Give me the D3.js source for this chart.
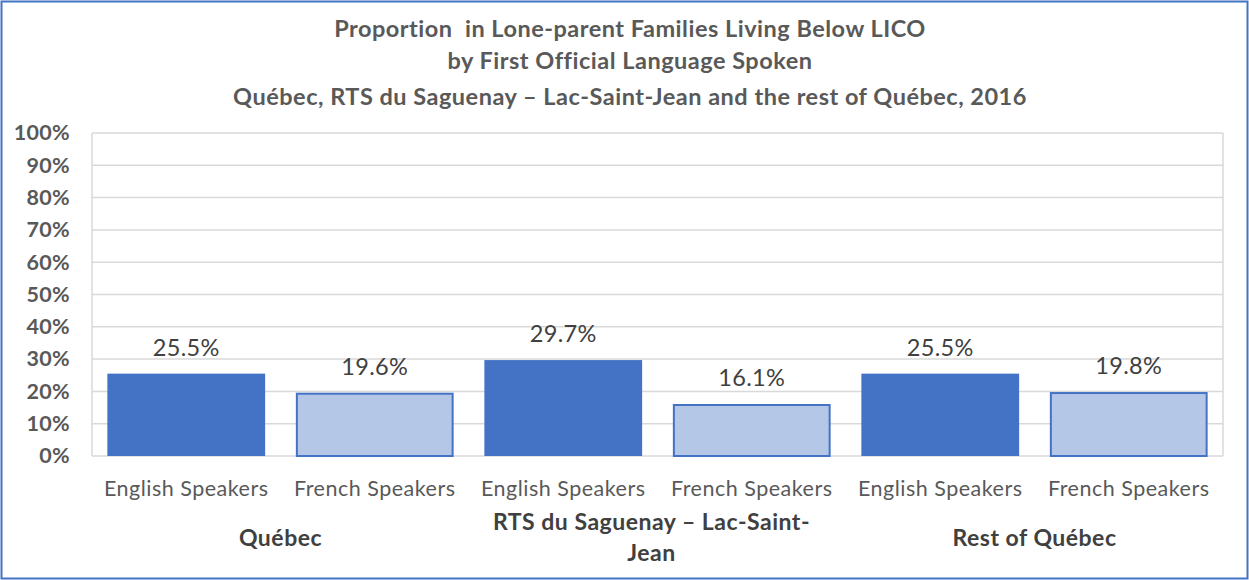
<!DOCTYPE html>
<html><head><meta charset="utf-8">
<script src="https://cdn.jsdelivr.net/npm/d3@7"></script>
<style>
html,body{margin:0;padding:0;background:#fff;}
svg{display:block;font-family:Lato,"Open Sans",sans-serif;}
</style></head>
<body>
<svg id="chart" width="1249" height="580"></svg>
<script>
const titleLines = ["Proportion  in Lone-parent Families Living Below LICO",
  "by First Official Language Spoken",
  "Québec, RTS du Saguenay – Lac-Saint-Jean and the rest of Québec, 2016"];
const groups = ["Québec", "RTS du Saguenay – Lac-Saint-Jean", "Rest of Québec"];
const groupLabelLines = [["Québec"], ["RTS du Saguenay – Lac-Saint-", "Jean"], ["Rest of Québec"]];
const speakers = ["English Speakers", "French Speakers"];
const values = [25.5, 19.6, 29.7, 16.1, 25.5, 19.8];
const yTicks = [0,10,20,30,40,50,60,70,80,90,100];

const svg = d3.select("#chart");
const W = 1249, H = 580;
const m = {left: 92, right: 1223, top: 133, bottom: 456};

svg.append("rect").attr("x",1.5).attr("y",1.5).attr("width",W-3).attr("height",H-3)
  .attr("fill","#fff").attr("stroke","#4472C4").attr("stroke-width",2);

const cats = [];
groups.forEach((g,gi)=>speakers.forEach((s,si)=>cats.push({key:g+"|"+s, group:g, gi, speaker:s, si, value: values[gi*2+si]})));

const x = d3.scaleBand().domain(cats.map(d=>d.key)).range([m.left, m.right]).paddingInner(0.163).paddingOuter(0.0815);
const y = d3.scaleLinear().domain([0,100]).range([m.bottom, m.top]);

// gridlines
svg.append("g").selectAll("line").data(yTicks).join("line")
  .attr("x1", m.left).attr("x2", m.right)
  .attr("y1", d=>y(d)).attr("y2", d=>y(d))
  .attr("stroke","#D9D9D9").attr("stroke-width",1.5);
svg.append("line").attr("x1",m.left).attr("x2",m.left).attr("y1",m.top).attr("y2",m.bottom).attr("stroke","#D9D9D9").attr("stroke-width",1.5);
svg.append("line").attr("x1",m.right).attr("x2",m.right).attr("y1",m.top).attr("y2",m.bottom).attr("stroke","#D9D9D9").attr("stroke-width",1.5);

// y axis labels
const yAxis = d3.axisLeft(y).tickValues(yTicks).tickFormat(d=>d+"%").tickSize(0).tickPadding(22);
const ya = svg.append("g").attr("transform",`translate(${m.left},0)`).call(yAxis);
ya.select(".domain").remove();
ya.selectAll("text").attr("font-family","Lato, sans-serif").attr("font-size",21.5).attr("font-weight","bold").attr("fill","#595959").attr("letter-spacing",0.3);

// bars
svg.append("g").selectAll("rect").data(cats).join("rect")
  .attr("x", d=>x(d.key) + (d.si===1?1:0))
  .attr("width", d=>x.bandwidth() - (d.si===1?2:0))
  .attr("y", d=>y(d.value) + (d.si===1?1:0))
  .attr("height", d=>y(0)-y(d.value) - (d.si===1?1:0))
  .attr("fill", d=>d.si===0?"#4472C4":"#B4C7E7")
  .attr("stroke", d=>d.si===0?"none":"#4472C4")
  .attr("stroke-width",2);

// data labels
svg.append("g").selectAll("text").data(cats).join("text")
  .attr("x", d=>x(d.key)+x.bandwidth()/2)
  .attr("y", d=>y(d.value)-18)
  .attr("text-anchor","middle").attr("font-size",23.5).attr("fill","#404040").attr("letter-spacing",0.3)
  .text(d=>d.value.toFixed(1)+"%");

// category labels
svg.append("g").selectAll("text").data(cats).join("text")
  .attr("x", d=>x(d.key)+x.bandwidth()/2)
  .attr("y", 496)
  .attr("text-anchor","middle").attr("font-size",21.5).attr("fill","#595959").attr("letter-spacing",0.5)
  .text(d=>d.speaker);

// group labels
const step = x.step();
groups.forEach((g,gi)=>{
  const cx = m.left + step*(gi*2+1);
  const lines = groupLabelLines[gi];
  const t = svg.append("text").attr("text-anchor","middle").attr("font-size",23).attr("font-weight","bold").attr("fill","#404040").attr("letter-spacing",0.5);
  if (lines.length===1) {
    t.append("tspan").attr("x",cx).attr("y",546).text(lines[0]);
  } else {
    lines.forEach((l,li)=>t.append("tspan").attr("x",cx-6).attr("y",530+li*31).text(l));
  }
});

// title
svg.append("g").selectAll("text").data(titleLines).join("text")
  .attr("x", 630).attr("y",(d,i)=>[37,69,105][i])
  .attr("text-anchor","middle").attr("font-size",23.5).attr("font-weight","bold").attr("fill","#595959")
  .attr("letter-spacing",0.5)
  .attr("xml:space","preserve")
  .text(d=>d);
</script>
</body></html>
